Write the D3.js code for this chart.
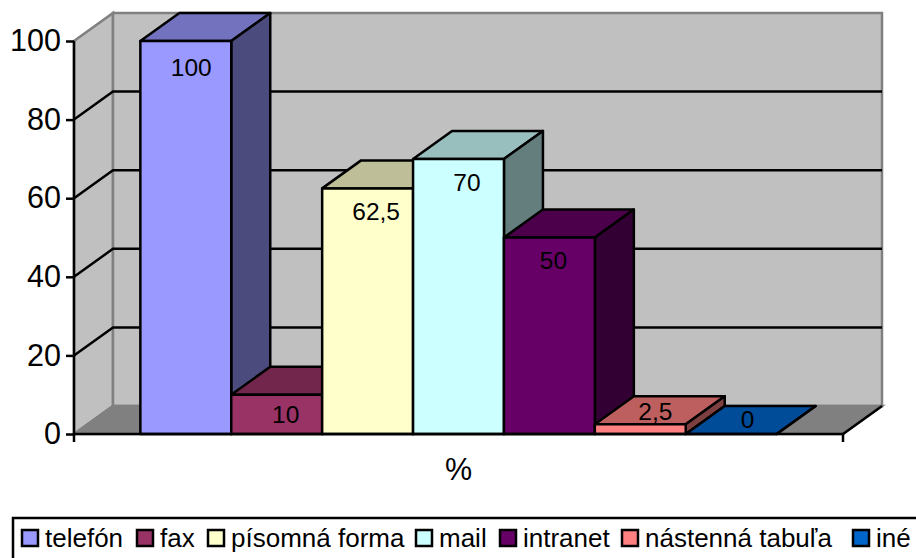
<!DOCTYPE html>
<html>
<head>
<meta charset="utf-8">
<script src="https://cdn.jsdelivr.net/npm/d3@7"></script>
<style>
  html, body { margin: 0; padding: 0; background: #fff; overflow: hidden; }
  text { font-family: "Liberation Sans", Arial, sans-serif; fill: #000; }
</style>
</head>
<body>
<div id="chart"></div>
<script>
const categories = ["telefón", "fax", "písomná forma", "mail", "intranet", "nástenná tabuľa", "iné"];
const values = [100, 10, 62.5, 70, 50, 2.5, 0];
const valueLabels = ["100", "10", "62,5", "70", "50", "2,5", "0"];
const barColors = ["#9999ff", "#993366", "#ffffcc", "#ccffff", "#660066", "#ff8080", "#0066cc"];
const yTicks = [0, 20, 40, 60, 80, 100];
const axisTitle = "%";

const width = 916;
const height = 558;

// plot box of the front plane and the offset of the back wall
const plotLeft = 74, plotRight = 843, plotTop = 41, plotBottom = 434;
const depthX = 39, depthY = -28;
const lineW = 2.5;

// label nudges from the centre of each bar's front face
const labelNudgeX = [5.5, 9, 8.5, 8.5, 4, 15, 16.5];
const labelNudgeY = [35, 28, 31.5, 32.5, 31.5, -4, -6];
const legendX = [22, 137, 208, 416, 500, 622, 853];

const x = d3.scaleBand().domain(categories).range([plotLeft, plotRight]).paddingInner(0).paddingOuter(0.73);
const y = d3.scaleLinear().domain([0, 100]).range([plotBottom, plotTop]);

const svg = d3.select("#chart").append("svg")
  .attr("width", width)
  .attr("height", height)
  .style("display", "block");

const line = d3.line();
const poly = pts => line(pts) + "Z";

// walls and floor
svg.append("path")
  .attr("d", poly([[plotLeft, plotTop], [plotLeft + depthX, plotTop + depthY], [plotLeft + depthX, plotBottom + depthY], [plotLeft, plotBottom]]))
  .attr("fill", "#c0c0c0").attr("stroke", "#808080").attr("stroke-width", lineW);
svg.append("path")
  .attr("d", poly([[plotLeft + depthX, plotTop + depthY], [plotRight + depthX, plotTop + depthY], [plotRight + depthX, plotBottom + depthY], [plotLeft + depthX, plotBottom + depthY]]))
  .attr("fill", "#c0c0c0").attr("stroke", "#808080").attr("stroke-width", lineW);
svg.append("path")
  .attr("d", poly([[plotLeft, plotBottom], [plotLeft + depthX, plotBottom + depthY], [plotRight + depthX, plotBottom + depthY], [plotRight, plotBottom]]))
  .attr("fill", "#808080").attr("stroke", "#808080").attr("stroke-width", lineW);

// gridlines run along the side wall and across the back
svg.append("g").selectAll("path")
  .data(yTicks.filter(t => t > 0 && t < 100))
  .enter().append("path")
  .attr("d", t => line([[plotLeft, y(t)], [plotLeft + depthX, y(t) + depthY], [plotRight + depthX, y(t) + depthY]]))
  .attr("fill", "none").attr("stroke", "#000").attr("stroke-width", lineW);

// right end of the floor
svg.append("path")
  .attr("d", line([[plotRight, plotBottom], [plotRight + depthX, plotBottom + depthY]]))
  .attr("stroke", "#000").attr("stroke-width", lineW);

// bars, each one a top, a side and a front face
const bars = svg.append("g").selectAll("g")
  .data(categories.map((c, i) => ({ c, i, v: values[i] })))
  .enter().append("g")
  .attr("stroke", "#000").attr("stroke-width", lineW).attr("stroke-linejoin", "round");

bars.append("path")
  .attr("d", d => poly([
    [x(d.c), y(d.v)],
    [x(d.c) + depthX, y(d.v) + depthY],
    [x(d.c) + x.bandwidth() + depthX, y(d.v) + depthY],
    [x(d.c) + x.bandwidth(), y(d.v)]]))
  .attr("fill", d => d3.rgb(barColors[d.i]).darker(0.83));

bars.append("path")
  .attr("d", d => poly([
    [x(d.c) + x.bandwidth(), y(d.v)],
    [x(d.c) + x.bandwidth() + depthX, y(d.v) + depthY],
    [x(d.c) + x.bandwidth() + depthX, y(0) + depthY],
    [x(d.c) + x.bandwidth(), y(0)]]))
  .attr("fill", d => d3.rgb(barColors[d.i]).darker(2));

bars.append("rect")
  .attr("x", d => x(d.c))
  .attr("y", d => y(d.v))
  .attr("width", x.bandwidth())
  .attr("height", d => y(0) - y(d.v))
  .attr("fill", d => barColors[d.i]);

// value axis
const yAxis = svg.append("g")
  .attr("transform", `translate(${plotLeft},0)`)
  .call(d3.axisLeft(y).tickValues(yTicks).tickSize(8).tickPadding(5));
yAxis.selectAll("path, line").attr("stroke", "#000").attr("stroke-width", lineW);
yAxis.select(".domain").attr("d", `M0,${plotTop}V${plotBottom + 8}`);
yAxis.selectAll("text").style("font-size", "30.5px").style("font-family", "'Liberation Sans', Arial, sans-serif");

// bottom axis line with its end tick
svg.append("path")
  .attr("d", line([[plotLeft, plotBottom], [plotRight, plotBottom], [plotRight, plotBottom + 8]]))
  .attr("fill", "none").attr("stroke", "#000").attr("stroke-width", lineW);

// value labels
svg.append("g").selectAll("text")
  .data(valueLabels)
  .enter().append("text")
  .attr("x", (d, i) => x(categories[i]) + x.bandwidth() / 2 + labelNudgeX[i])
  .attr("y", (d, i) => y(values[i]) + labelNudgeY[i])
  .attr("text-anchor", "middle")
  .style("font-size", "24.5px")
  .text(d => d);

svg.append("text")
  .attr("x", 458.5).attr("y", 480)
  .attr("text-anchor", "middle")
  .style("font-size", "30.5px")
  .text(axisTitle);

// legend box runs off the right and bottom edges
svg.append("rect")
  .attr("x", 13).attr("y", 518)
  .attr("width", 940).attr("height", 70)
  .attr("fill", "#fff").attr("stroke", "#000").attr("stroke-width", lineW);

const legend = svg.append("g").selectAll("g")
  .data(categories)
  .enter().append("g")
  .attr("transform", (d, i) => `translate(${legendX[i]},530)`);

legend.append("rect")
  .attr("width", 16).attr("height", 16)
  .attr("fill", (d, i) => barColors[i])
  .attr("stroke", "#000").attr("stroke-width", lineW);

legend.append("text")
  .attr("x", 23).attr("y", 17)
  .style("font-size", "26px")
  .text(d => d);
</script>
</body>
</html>
